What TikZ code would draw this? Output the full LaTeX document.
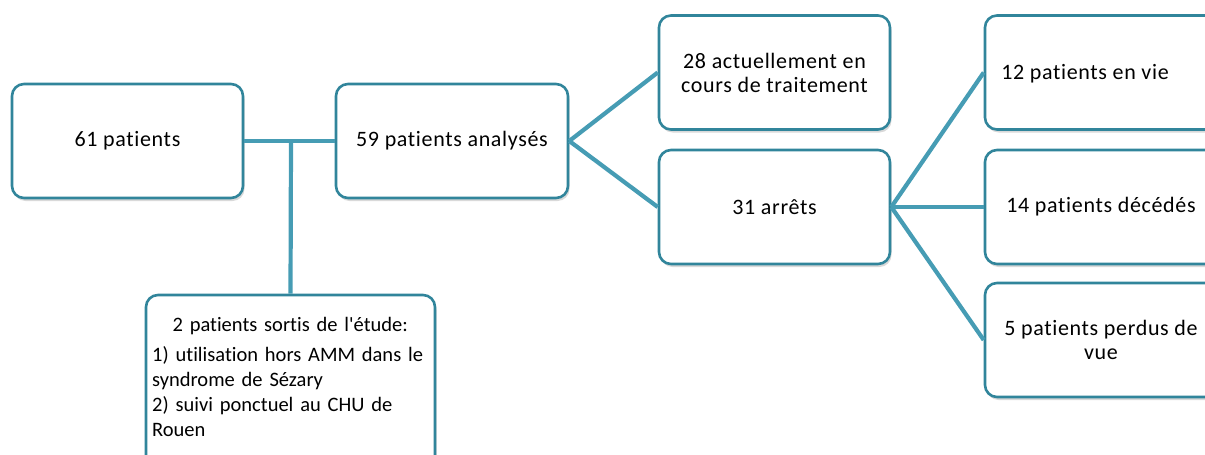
\documentclass[tikz,border=0pt]{standalone}
\usepackage{fontspec}
\setmainfont{Carlito}[Ligatures={TeXOff,NoCommon}]
\newfontfamily\boxfont{Carlito}[Ligatures={TeXOff,NoCommon}, LetterSpace=3]
\usetikzlibrary{shadows}
\definecolor{boxline}{RGB}{49,133,155}
\definecolor{conn}{RGB}{70,156,180}
\tikzset{
  box/.style={draw=boxline, line width=2.6pt, rounded corners=12pt, fill=white,
    minimum width=#1, minimum height=114pt, inner sep=0pt, align=center,
    font=\boxfont\fontsize{22}{24}\selectfont,
    drop shadow={shadow xshift=1.5pt, shadow yshift=-3pt, opacity=0.25, fill=black!60}},
  box/.default=231pt,
  conn/.style={draw=conn, line width=4.2pt},
}
\begin{document}
\begin{tikzpicture}[x=1pt,y=-1pt]
\useasboundingbox (0,0) rectangle (1205,455);
\clip (0,0) rectangle (1205,455);
\node[box] (A) at (127.5,141) {61 patients};
\node[box=232pt] (B) at (452,141) {59 patients analysés};
\node[box=289pt, minimum height=175pt] (C) at (290.5,382.5) {};
\node[anchor=north west, inner sep=0pt, text width=280pt, align=left,
  font=\fontsize{20.5}{25}\selectfont] (Ct) at (152,317)
  {\makebox[276pt][c]{2 patients sortis de l'étude:}\\[5pt]
   1) utilisation hors AMM dans le\\
   syndrome de Sézary\\
   2) suivi ponctuel au CHU de\\
   Rouen};
\node[box] (D) at (774.5,72.5) {28 actuellement en\\cours de traitement};
\node[box] (E) at (774.5,207) {31 arrêts};
\node[box=232pt] (F) at (1101,72.5) {};
\node[font=\boxfont\fontsize{22}{24}\selectfont, inner sep=0pt] (Ft) at (1085,74) {12 patients en vie};
\node[box=232pt] (G) at (1101,207) {14 patients décédés};
\node[box=232pt] (H) at (1101,340) {5 patients perdus de\\vue};
\coordinate (J) at (291,140);
\draw[conn] (A.east) -- (B.west);
\draw[conn] (J) -- (C.north);
\draw[conn] (B.east) -- (D.west);
\draw[conn] (B.east) -- (E.west);
\draw[conn] (E.east) -- (F.west);
\draw[conn] (E.east) -- (G.west);
\draw[conn] (E.east) -- (H.west);
\end{tikzpicture}
\end{document}
